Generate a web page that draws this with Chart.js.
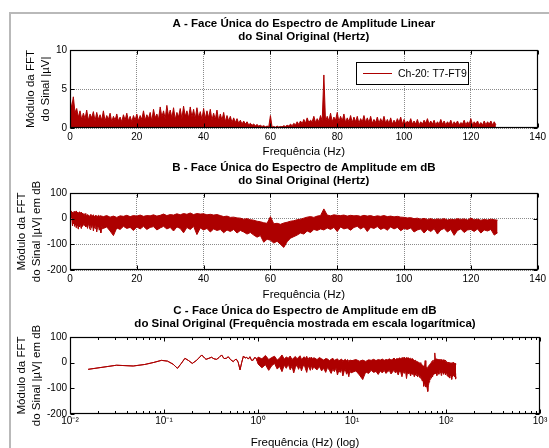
<!DOCTYPE html>
<html>
<head>
<meta charset="utf-8">
<script src="https://cdn.jsdelivr.net/npm/chart.js@4.4.0/dist/chart.umd.min.js"></script>
<style>
  body { margin: 0; width: 549px; height: 448px; overflow: hidden; background: #fff; position: relative; }
  #moldura { position: absolute; left: 9px; top: 12px; width: 600px; height: 500px;
             border-left: 2px solid #b9b9b9; border-top: 2px solid #b9b9b9; }
  canvas { position: absolute; left: 0; }
</style>
</head>
<body>
<div id="moldura"></div>
<canvas id="graficoA" width="549" height="160" style="top:0px"></canvas>
<canvas id="graficoB" width="549" height="143" style="top:160px"></canvas>
<canvas id="graficoC" width="549" height="147" style="top:303px"></canvas>
<script>
// canal
const canal = "Ch-20: T7-FT9";

// A - amplitude linear (uV): pico em f = i Hz, vale em f = i + 0.5 Hz
const ampPico = [
  3.8, 4.0, 2.5, 2.2, 1.9, 2.3, 1.8, 2.1, 2.0, 1.7,
  2.2, 1.6, 1.9, 1.5, 1.8, 1.4, 1.7, 1.9, 1.5, 1.6,
  1.8, 1.6, 2.2, 1.7, 2.0, 2.4, 1.8, 2.7, 2.2, 2.9,
  2.3, 2.6, 2.0, 2.5, 2.8, 2.2, 2.7, 2.4, 2.6, 2.1,
  2.5, 2.2, 2.4, 1.9, 2.3, 1.8, 2.0, 1.6, 1.5, 1.3,
  1.2, 1.0, 0.9, 0.8, 0.6, 0.5, 0.45, 0.35, 0.3, 0.25,
  1.6, 0.2, 0.25, 0.2, 0.3, 0.35, 0.5, 0.6, 0.8, 0.9,
  1.1, 1.3, 1.0, 1.5, 1.2, 1.6, 6.8, 1.5, 1.9, 1.4,
  2.0, 1.5, 1.8, 1.3, 1.6, 1.4, 1.5, 1.2, 1.6, 1.3,
  1.5, 1.1, 1.4, 1.2, 1.5, 1.1, 1.3, 1.0, 1.2, 1.4,
  1.1, 0.9, 1.2, 0.9, 1.1, 0.8, 1.0, 1.2, 0.9, 1.0,
  0.8, 1.1, 0.9, 0.8, 1.0, 0.8, 0.9, 0.7, 1.0, 0.8,
  1.2, 0.8, 0.9, 0.7, 0.9, 0.8, 0.9, 0.8
];
const ampVale = [
  2.6, 2.0, 1.4, 1.1, 1.2, 1.0, 1.3, 0.9, 1.1, 1.0,
  0.9, 1.1, 0.8, 1.0, 0.9, 0.8, 1.0, 0.9, 0.8, 1.0,
  0.9, 1.1, 1.0, 1.2, 0.9, 1.3, 1.1, 1.4, 1.2, 1.5,
  1.3, 1.1, 1.4, 1.2, 1.5, 1.3, 1.4, 1.2, 1.3, 1.1,
  1.2, 1.3, 1.0, 1.1, 0.9, 1.0, 0.8, 0.9, 0.7, 0.7,
  0.6, 0.5, 0.5, 0.4, 0.35, 0.3, 0.25, 0.2, 0.15, 0.15,
  0.12, 0.1, 0.12, 0.15, 0.2, 0.25, 0.3, 0.4, 0.45, 0.55,
  0.6, 0.7, 0.8, 0.7, 0.8, 0.9, 0.8, 0.9, 0.8, 1.0,
  0.8, 0.9, 0.7, 0.8, 0.7, 0.8, 0.6, 0.8, 0.7, 0.7,
  0.6, 0.7, 0.6, 0.7, 0.6, 0.6, 0.5, 0.6, 0.7, 0.5,
  0.5, 0.6, 0.5, 0.5, 0.4, 0.5, 0.6, 0.5, 0.5, 0.4,
  0.5, 0.5, 0.4, 0.5, 0.4, 0.5, 0.4, 0.5, 0.4, 0.5,
  0.4, 0.5, 0.4, 0.4, 0.4, 0.5, 0.4, 0.4
];

// B e C - espectro em dB
// abaixo de 1 Hz: uma so linha
const freqBaixas = [0.0156, 0.03125, 0.047, 0.0625, 0.078, 0.094, 0.109, 0.125, 0.139, 0.152,
  0.167, 0.183, 0.2, 0.22, 0.235, 0.252, 0.27, 0.28, 0.3, 0.32,
  0.34, 0.363, 0.385, 0.41, 0.435, 0.46, 0.483, 0.51, 0.546, 0.57,
  0.59, 0.615, 0.644, 0.67, 0.7, 0.73, 0.76, 0.79, 0.82, 0.855,
  0.89, 0.92, 0.96, 0.98];
const dbBaixas = [-26, -10, -13, -7, 1, 9, 6, -6, -22, -4,
  17, 8, -3, 8, 18, 30, 18, 13, 17, 21,
  15, 13, 20, 30, 16, 17, 23, 12, 4, 12,
  13, 2, -28, 0, 26, 18, 21, 14, 23, 9,
  10, 20, 17, 6];
// 1 a 4 Hz, passo 0.1 Hz (topo e base da faixa)
const dbTopo1a4 = [22, 15, 28, 12, 20, 25, 10, 18, 30, 14, 22, 17, 26, 12, 19, 24, 15, 21, 27, 13, 18, 23, 16, 25, 11, 20, 17, 22, 14, 19];
const dbBase1a4 = [-5, -20, -8, -30, -12, -3, -25, -15, -35, -10, -22, -6, -28, -14, -40, -18, -9, -26, -12, -32, -16, -8, -24, -38, -13, -20, -30, -10, -27, -17];
// 4 a 10 Hz, passo 0.25 Hz
const dbTopo4a10 = [18, 12, 20, 15, 10, 16, 14, 8, 13, 17, 9, 12, 15, 7, 11, 14, 6, 10, 13, 8, 12, 5, 10, 9];
const dbBase4a10 = [-20, -28, -15, -32, -22, -38, -18, -30, -42, -25, -35, -20, -48, -30, -38, -26, -52, -34, -28, -45, -36, -55, -30, -40];
// 10 a 128 Hz, passo 1 Hz
const dbTopo10a128 = [
  8, 12, 6, 10, 5, 11, 9, 13, 8, 12,
  10, 14, 9, 12, 11, 15, 10, 13, 18, 12,
  16, 14, 19, 15, 20, 17, 22, 16, 20, 18,
  19, 15, 17, 14, 16, 12, 8, 10, 5, 6,
  3, 2, -2, 0, -4, -6, -10, -12, -16, -18,
  8, -20, -18, -22, -17, -14, -10, -8, -4, -2,
  2, 6, 8, 5, 10, 12, 38, 14, 11, 15,
  13, 12, 14, 10, 13, 11, 12, 9, 13, 10,
  12, 8, 11, 9, 12, 8, 10, 7, 9, 6,
  5, 3, 4, 0, 2, -2, 1, -3, 0, -4,
  -1, -3, 0, -5, -2, -4, 0, -3, -1, -5,
  2, -4, -2, -6, -3, -5, -2, -4, -6
];
const dbBase10a128 = [
  -38, -32, -48, -66, -36, -42, -30, -38, -34, -46,
  -32, -40, -30, -42, -34, -31, -44, -36, -30, -40,
  -34, -48, -32, -38, -55, -34, -42, -30, -62, -36,
  -44, -38, -52, -40, -46, -42, -55, -44, -50, -42,
  -56, -46, -52, -60, -54, -64, -72, -66, -92, -80,
  -84, -95, -88, -100, -112, -90, -76, -70, -64, -56,
  -60, -48, -54, -42, -46, -40, -44, -36, -42, -34,
  -50, -32, -40, -36, -45, -34, -30, -40, -32, -50,
  -34, -38, -31, -42, -36, -45, -32, -40, -34, -47,
  -38, -42, -36, -52, -44, -40, -56, -42, -50, -39,
  -60, -44, -38, -52, -42, -65, -46, -40, -54, -44,
  -42, -50, -40, -56, -44, -48, -42, -64, -55
];

// ticks
const ticksHz = [0, 20, 40, 60, 80, 100, 120, 140];
const ticksAmp = [0, 5, 10];
const ticksDb = [-200, -100, 0, 100];
const ticksLog = [0.01, 0.1, 1, 10, 100, 1000];
const rotulosLog = ["10\u207B\u00B2", "10\u207B\u00B9", "10\u2070", "10\u00B9", "10\u00B2", "10\u00B3"];

const titulosA = ["A - Face Única do Espectro de Amplitude Linear", "do Sinal Original (Hertz)"];
const titulosB = ["B - Face Única do Espectro de Amplitude em dB", "do Sinal Original (Hertz)"];
const titulosC = ["C - Face Única do Espectro de Amplitude em dB", "do Sinal Original (Frequência mostrada em escala logarítmica)"];

const vermelho = "#ad0000";
const fonte = '"Liberation Sans", Arial, sans-serif';
Chart.defaults.font.family = fonte;
Chart.defaults.color = "#000";

// grade de frequencias
function grade(inicio, passo, n) {
  return Array.from({ length: n }, (_, i) => +(inicio + i * passo).toFixed(4));
}

const pontosA = [];
ampPico.forEach((v, i) => {
  pontosA.push({ x: i, y: v });
  pontosA.push({ x: i + 0.5, y: ampVale[i] });
});

const freqDb = [...freqBaixas, ...grade(1, 0.1, dbTopo1a4.length), ...grade(4, 0.25, dbTopo4a10.length), ...grade(10, 1, dbTopo10a128.length)];
const topoDb = [...dbBaixas, ...dbTopo1a4, ...dbTopo4a10, ...dbTopo10a128];
const baseDb = [...dbBaixas, ...dbBase1a4, ...dbBase4a10, ...dbBase10a128];
const pontosTopo = freqDb.map((f, i) => ({ x: f, y: topoDb[i] }));
const pontosBase = freqDb.map((f, i) => ({ x: f, y: baseDb[i] }));

// titulo com duas linhas centrado na area do grafico
const pluginTitulo = {
  id: "tituloFixo",
  afterDraw(chart, args, opts) {
    const ctx = chart.ctx;
    ctx.save();
    ctx.font = "bold 11.5px " + fonte;
    ctx.fillStyle = "#000";
    ctx.textAlign = "center";
    ctx.textBaseline = "middle";
    const cx = (chart.chartArea.left + chart.chartArea.right) / 2;
    opts.linhas.forEach((t, i) => ctx.fillText(t, cx, opts.y + i * 13));
    ctx.restore();
  }
};

// caixa fechada e ticks para dentro (estilo matlab)
function ehPotencia(v) {
  const l = Math.log10(v);
  return Math.abs(l - Math.round(l)) < 1e-6;
}
const pluginEixos = {
  id: "eixosInternos",
  afterDatasetsDraw(chart) {
    const { ctx, chartArea: a, scales } = chart;
    const l = Math.round(a.left) + 0.5, r = Math.round(a.right) - 0.5;
    const t = Math.round(a.top) + 0.5, b = Math.round(a.bottom) - 0.5;
    ctx.save();
    ctx.strokeStyle = "#000";
    ctx.lineWidth = 1;
    ctx.beginPath();
    const log = scales.x.type === "logarithmic";
    scales.x.ticks.forEach(tk => {
      const px = Math.round(scales.x.getPixelForValue(tk.value)) + 0.5;
      const len = !log || ehPotencia(tk.value) ? 4 : 2.5;
      ctx.moveTo(px, t); ctx.lineTo(px, t + len);
      ctx.moveTo(px, b); ctx.lineTo(px, b - len);
    });
    scales.y.ticks.forEach(tk => {
      const py = Math.round(scales.y.getPixelForValue(tk.value)) + 0.5;
      ctx.moveTo(l, py); ctx.lineTo(l + 4, py);
      ctx.moveTo(r, py); ctx.lineTo(r - 4, py);
    });
    ctx.stroke();
    ctx.lineWidth = 1.2;
    ctx.strokeRect(l, t, r - l, b - t);
    ctx.restore();
  }
};

// legenda do grafico A
const pluginLegenda = {
  id: "legendaCanal",
  afterDraw(chart) {
    const ctx = chart.ctx;
    ctx.save();
    ctx.fillStyle = "#fff";
    ctx.fillRect(356.5, 62.5, 112, 22);
    ctx.strokeStyle = "#000";
    ctx.lineWidth = 1;
    ctx.strokeRect(356.5, 62.5, 112, 22);
    ctx.strokeStyle = vermelho;
    ctx.beginPath();
    ctx.moveTo(363, 73.5); ctx.lineTo(392, 73.5);
    ctx.stroke();
    ctx.fillStyle = "#000";
    ctx.font = "10.5px " + fonte;
    ctx.textBaseline = "middle";
    ctx.fillText(chart.data.datasets[0].label, 398, 74);
    ctx.restore();
  }
};

function eixoY(min, max, valores, rotulo, padTitulo, comGrade) {
  return {
    type: "linear", min: min, max: max,
    afterFit: s => { s.width = 70; },
    afterBuildTicks: s => { s.ticks = valores.map(v => ({ value: v })); },
    ticks: { font: { size: 10 }, padding: 3 },
    grid: { display: comGrade, color: "#8a8a8a", drawTicks: false },
    border: { display: false, dash: [1, 1] },
    title: { display: true, text: rotulo, font: { size: 11.5, lineHeight: 1.3 }, padding: { top: padTitulo, bottom: 0 } }
  };
}

function eixoXHz(altura) {
  return {
    type: "linear", min: 0, max: 140,
    afterFit: s => { s.height = altura; },
    afterBuildTicks: s => { s.ticks = ticksHz.map(v => ({ value: v })); },
    ticks: { font: { size: 10 }, padding: 3, maxRotation: 0 },
    grid: { color: "#8a8a8a", drawTicks: false },
    border: { display: false, dash: [1, 1] },
    title: { display: true, text: "Frequência (Hz)", font: { size: 11.5 }, padding: { top: 0, bottom: 1 } }
  };
}

function opcoesBase(topo, escalas, titulos, yTitulo) {
  return {
    responsive: false, animation: false, devicePixelRatio: 1,
    layout: { padding: { left: 0, right: 9, top: topo, bottom: 0 } },
    elements: { point: { radius: 0 }, line: { tension: 0 } },
    plugins: { legend: { display: false }, tooltip: { enabled: false }, tituloFixo: { linhas: titulos, y: yTitulo } },
    scales: escalas
  };
}

new Chart(document.getElementById("graficoA"), {
  type: "line",
  data: { datasets: [{ label: canal, data: pontosA, borderColor: vermelho, backgroundColor: vermelho, borderWidth: 1, fill: "origin" }] },
  options: opcoesBase(50, { x: eixoXHz(32), y: eixoY(0, 10, ticksAmp, ["Módulo da FFT", "do Sinal |µV|"], 23, true) }, titulosA, 24),
  plugins: [pluginTitulo, pluginEixos, pluginLegenda]
});

new Chart(document.getElementById("graficoB"), {
  type: "line",
  data: { datasets: [
    { label: canal, data: pontosTopo, borderColor: vermelho, backgroundColor: vermelho, borderWidth: 1, fill: "+1" },
    { label: canal, data: pontosBase, borderColor: vermelho, borderWidth: 1, fill: false }
  ] },
  options: opcoesBase(33, { x: eixoXHz(33), y: eixoY(-200, 100, ticksDb, ["Módulo da FFT", "do Sinal |µV| em dB"], 14, true) }, titulosB, 8),
  plugins: [pluginTitulo, pluginEixos]
});

new Chart(document.getElementById("graficoC"), {
  type: "line",
  data: { datasets: [
    { label: canal, data: pontosTopo, borderColor: vermelho, backgroundColor: vermelho, borderWidth: 1, fill: "+1" },
    { label: canal, data: pontosBase, borderColor: vermelho, borderWidth: 1, fill: false }
  ] },
  options: opcoesBase(34, {
    x: {
      type: "logarithmic", min: 0.01, max: 1000,
      afterFit: s => { s.height = 36; },
      afterBuildTicks: s => {
        s.ticks = s.ticks.filter(tk => {
          const m = tk.value / Math.pow(10, Math.floor(Math.log10(tk.value) + 1e-9));
          return Math.abs(m - Math.round(m)) < 1e-6;
        });
      },
      ticks: {
        font: { size: 10 }, padding: 1, maxRotation: 0, autoSkip: false,
        callback: v => {
          const i = ticksLog.findIndex(t => Math.abs(Math.log10(t) - Math.log10(v)) < 1e-6);
          return i >= 0 ? rotulosLog[i] : "";
        }
      },
      grid: { display: false, drawTicks: false },
      border: { display: false },
      title: { display: true, text: "Frequência (Hz) (log)", font: { size: 11.5 }, padding: { top: 0, bottom: 0 } }
    },
    y: eixoY(-200, 100, ticksDb, ["Módulo da FFT", "do Sinal |µV| em dB"], 14, false)
  }, titulosC, 8),
  plugins: [pluginTitulo, pluginEixos]
});
</script>
</body>
</html>
